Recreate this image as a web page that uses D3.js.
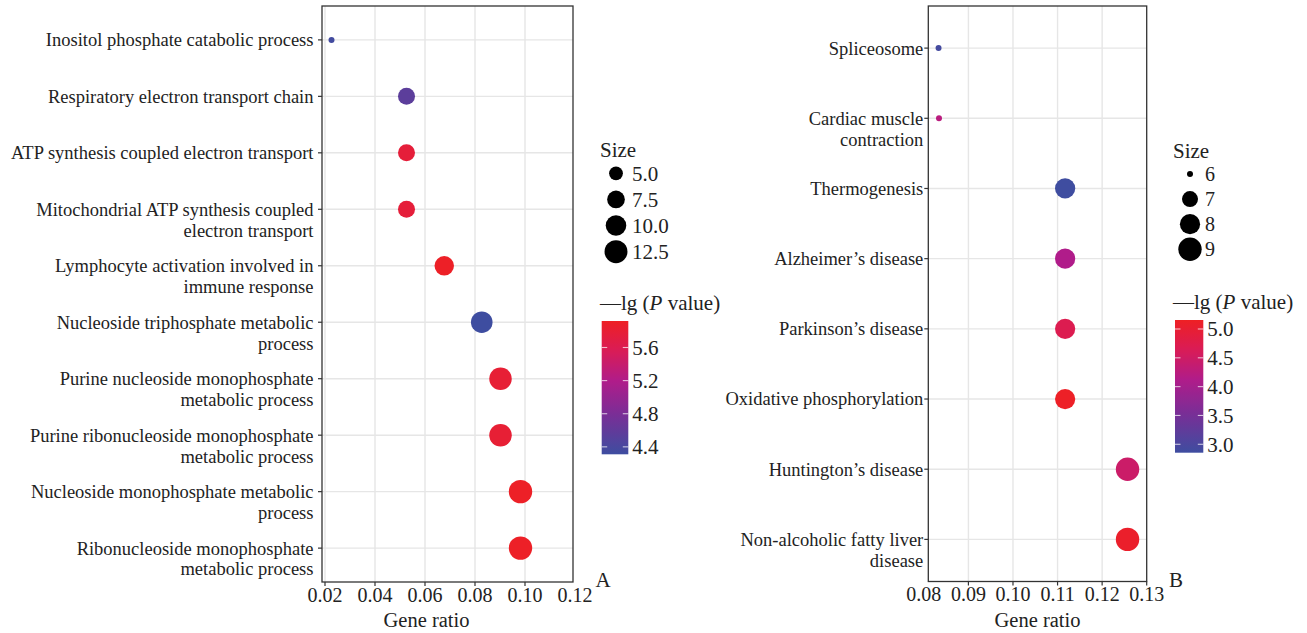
<!DOCTYPE html>
<html>
<head>
<meta charset="utf-8">
<script src="https://cdn.jsdelivr.net/npm/d3@7"></script>
<style>
  html, body { margin: 0; padding: 0; background: #fff; }
  svg { display: block; }
  svg text { font-family: "Liberation Serif", "Times New Roman", Times, serif; fill: #222; }
</style>
</head>
<body>
<svg id="chart" width="1307" height="633" font-family="Liberation Serif, serif"></svg>
<script>
// ---------- Panel A data (GO terms) ----------
const termsA = [
  "Inositol phosphate catabolic process",
  "Respiratory electron transport chain",
  "ATP synthesis coupled electron transport",
  "Mitochondrial ATP synthesis coupled\nelectron transport",
  "Lymphocyte activation involved in\nimmune response",
  "Nucleoside triphosphate metabolic\nprocess",
  "Purine nucleoside monophosphate\nmetabolic process",
  "Purine ribonucleoside monophosphate\nmetabolic process",
  "Nucleoside monophosphate metabolic\nprocess",
  "Ribonucleoside monophosphate\nmetabolic process"
];
const ratioA = [0.0226, 0.0526, 0.0526, 0.0526, 0.0677, 0.0827, 0.0902, 0.0902, 0.0982, 0.0982];
const countA = [3, 7, 7, 7, 9, 11, 12, 12, 13, 13];
const lgpA   = [4.34, 4.55, 5.76, 5.76, 5.90, 4.31, 5.80, 5.80, 5.90, 5.90];
const xTicksA = [0.02, 0.04, 0.06, 0.08, 0.10, 0.12];
const sizeLegendA = [5.0, 7.5, 10.0, 12.5];
const colorTicksA = [4.4, 4.8, 5.2, 5.6];

// ---------- Panel B data (KEGG pathways) ----------
const termsB = [
  "Spliceosome",
  "Cardiac muscle\ncontraction",
  "Thermogenesis",
  "Alzheimer’s disease",
  "Parkinson’s disease",
  "Oxidative phosphorylation",
  "Huntington’s disease",
  "Non-alcoholic fatty liver\ndisease"
];
const ratioB = [0.0833, 0.0834, 0.1117, 0.1117, 0.1117, 0.1117, 0.1257, 0.1257];
const countB = [6, 6, 8, 8, 8, 8, 9, 9];
const lgpB   = [2.92, 4.24, 2.86, 4.12, 4.70, 5.12, 4.46, 5.08];
const xTicksB = [0.08, 0.09, 0.10, 0.11, 0.12, 0.13];
const sizeLegendB = [6, 7, 8, 9];
const colorTicksB = [3.0, 3.5, 4.0, 4.5, 5.0];

const svg = d3.select("#chart");
const defs = svg.append("defs");
const gradStops = [0, 0.3, 0.55, 0.78, 1];
const gradColors = ["#3E4DA0", "#7A2E96", "#B01C8A", "#DA1C55", "#EE2024"];

function drawPanel(cfg) {
  const g = svg.append("g");
  const x = d3.scaleLinear().domain(cfg.xDomain).range([cfg.left, cfg.right]);
  const y = d3.scalePoint().domain(cfg.terms).range([cfg.top, cfg.bottom]).padding(0.6);
  const [c0, c1] = cfg.cDomain;
  const col = d3.scaleLinear().domain(gradStops.map(s => c0 + s * (c1 - c0))).range(gradColors)
    .interpolate(d3.interpolateRgb).clamp(true);
  const lo = d3.min(cfg.counts), hi = d3.max(cfg.counts);
  const tScale = d3.scaleLinear().domain([lo, hi]).range([0, 1]);
  const rLin = d3.scaleLinear().domain([0, 1]).range([3, 11.7]);
  const rad = v => rLin(Math.sqrt(Math.max(0, tScale(v))));

  // grid
  g.append("g").selectAll("line").data(cfg.terms).join("line")
    .attr("x1", cfg.left).attr("x2", cfg.right)
    .attr("y1", d => y(d)).attr("y2", d => y(d))
    .attr("stroke", "#E6E6E6").attr("stroke-width", 1.4);
  g.append("g").selectAll("line")
    .data(cfg.xTicks.filter(t => x(t) > cfg.left + 1 && x(t) < cfg.right - 1)).join("line")
    .attr("x1", d => x(d)).attr("x2", d => x(d))
    .attr("y1", cfg.top).attr("y2", cfg.bottom)
    .attr("stroke", "#E6E6E6").attr("stroke-width", 1.4);

  // points
  const data = cfg.terms.map((t, i) => ({ t, r: cfg.ratios[i], c: cfg.counts[i], p: cfg.lgp[i] }));
  g.append("g").selectAll("circle").data(data).join("circle")
    .attr("cx", d => x(d.r)).attr("cy", d => y(d.t))
    .attr("r", d => rad(d.c))
    .attr("fill", d => col(d.p));

  // frame
  g.append("rect").attr("x", cfg.left).attr("y", cfg.top)
    .attr("width", cfg.right - cfg.left).attr("height", cfg.bottom - cfg.top)
    .attr("fill", "none").attr("stroke", "#333").attr("stroke-width", 1.3);

  // x axis
  const xa = g.append("g").attr("transform", `translate(0,${cfg.bottom})`);
  xa.selectAll("line").data(cfg.xTicks.filter(t => x(t) >= cfg.left - 0.5 && x(t) <= cfg.right + 0.5)).join("line")
    .attr("x1", d => x(d)).attr("x2", d => x(d)).attr("y1", 0).attr("y2", 4)
    .attr("stroke", "#333").attr("stroke-width", 1.2);
  xa.selectAll("text").data(cfg.xTicks).join("text")
    .attr("x", d => x(d)).attr("y", 12.5).attr("dy", "0.35em")
    .attr("text-anchor", "middle").attr("font-size", 20)
    .text(d => d3.format(".2f")(d));
  g.append("text").attr("x", (cfg.left + cfg.right) / 2 + cfg.titleShift).attr("y", cfg.bottom + 38)
    .attr("dy", "0.35em")
    .attr("text-anchor", "middle").attr("font-size", 20.5).text("Gene ratio");

  // y axis ticks + labels
  const ya = g.append("g");
  ya.selectAll("line").data(cfg.terms).join("line")
    .attr("x1", cfg.left - 4).attr("x2", cfg.left)
    .attr("y1", d => y(d)).attr("y2", d => y(d))
    .attr("stroke", "#333").attr("stroke-width", 1.2);
  const lab = ya.selectAll("text").data(cfg.terms).join("text")
    .attr("x", cfg.left - cfg.labelGap).attr("y", d => y(d))
    .attr("text-anchor", "end").attr("font-size", 18.5);
  lab.each(function (d) {
    const sel = d3.select(this);
    d.split("\n").forEach((ln, i) => {
      sel.append("tspan").attr("x", cfg.left - cfg.labelGap)
        .attr("dy", i === 0 ? "0.35em" : "1.13em").text(ln);
    });
  });

  // panel letter
  g.append("text").attr("x", cfg.letterX).attr("y", cfg.bottom - 2)
    .attr("text-anchor", "middle").attr("dy", "0.35em").attr("font-size", 21).text(cfg.letter);

  // size legend
  const lg = g.append("g");
  lg.append("text").attr("x", cfg.legX).attr("y", cfg.sizeTitleY).attr("dy", "0.35em")
    .attr("font-size", 21).text("Size");
  const sy = d3.scalePoint().domain(cfg.sizeLegend).range([cfg.sizeY0, cfg.sizeY1]);
  lg.selectAll("circle").data(cfg.sizeLegend).join("circle")
    .attr("cx", cfg.legCx).attr("cy", d => sy(d)).attr("r", d => rad(d)).attr("fill", "#000");
  lg.selectAll("text.sl").data(cfg.sizeLegend).join("text").attr("class", "sl")
    .attr("x", cfg.legLabelX).attr("y", d => sy(d)).attr("dy", "0.35em")
    .attr("font-size", cfg.sizeFont).text(d => cfg.sizeFmt(d));

  // color bar
  const cbTitle = lg.append("text").attr("x", cfg.legX).attr("y", cfg.cbTitleY).attr("dy", "0.35em")
    .attr("font-size", 21);
  cbTitle.append("tspan").text("—lg (");
  cbTitle.append("tspan").attr("font-style", "italic").text("P");
  cbTitle.append("tspan").text(" value)");

  const gid = "grad" + cfg.letter;
  const grad = defs.append("linearGradient").attr("id", gid)
    .attr("x1", 0).attr("y1", 1).attr("x2", 0).attr("y2", 0);
  d3.range(0, 1.0001, 0.05).forEach(s => {
    grad.append("stop").attr("offset", s).attr("stop-color", col(c0 + s * (c1 - c0)));
  });
  const cy = d3.scaleLinear().domain(cfg.cDomain).range([cfg.cbBottom, cfg.cbTop]);
  lg.append("rect").attr("x", cfg.cbX).attr("y", cfg.cbTop)
    .attr("width", cfg.cbW).attr("height", cfg.cbBottom - cfg.cbTop)
    .attr("fill", `url(#${gid})`);
  lg.selectAll("line.cl").data(cfg.cTicks).join("line").attr("class", "cl")
    .attr("x1", cfg.cbX).attr("x2", cfg.cbX + 5.5)
    .attr("y1", d => cy(d)).attr("y2", d => cy(d))
    .attr("stroke", "#fff").attr("stroke-opacity", 0.7).attr("stroke-width", 1.1);
  lg.selectAll("line.cr").data(cfg.cTicks).join("line").attr("class", "cr")
    .attr("x1", cfg.cbX + cfg.cbW - 5.5).attr("x2", cfg.cbX + cfg.cbW)
    .attr("y1", d => cy(d)).attr("y2", d => cy(d))
    .attr("stroke", "#fff").attr("stroke-opacity", 0.7).attr("stroke-width", 1.1);
  lg.selectAll("text.ct").data(cfg.cTicks).join("text").attr("class", "ct")
    .attr("x", cfg.cbX + cfg.cbW + 4).attr("y", d => cy(d)).attr("dy", "0.35em")
    .attr("font-size", 21).text(d => d3.format(".1f")(d));
}

drawPanel({
  letter: "A", terms: termsA, ratios: ratioA, counts: countA, lgp: lgpA,
  xTicks: xTicksA, xDomain: [0.0188, 0.1192],
  left: 322, right: 573, top: 6, bottom: 582, labelGap: 8.5, titleShift: -21,
  letterX: 603,
  cDomain: [4.31, 5.92], cTicks: colorTicksA,
  sizeLegend: sizeLegendA, sizeFmt: d3.format(".1f"), sizeFont: 21,
  legX: 600, legCx: 616, legLabelX: 632, sizeTitleY: 150, sizeY0: 173.3, sizeY1: 251.7,
  cbTitleY: 303, cbX: 601.7, cbW: 26.6, cbTop: 321, cbBottom: 454.3
});

drawPanel({
  letter: "B", terms: termsB, ratios: ratioB, counts: countB, lgp: lgpB,
  xTicks: xTicksB, xDomain: [0.081, 0.13],
  left: 928.3, right: 1146.7, top: 6, bottom: 581.5, labelGap: 5, titleShift: 0,
  letterX: 1176,
  cDomain: [2.854, 5.156], cTicks: colorTicksB,
  sizeLegend: sizeLegendB, sizeFmt: d3.format("d"), sizeFont: 20,
  legX: 1173, legCx: 1190, legLabelX: 1205, sizeTitleY: 151, sizeY0: 174, sizeY1: 249.3,
  cbTitleY: 302, cbX: 1175, cbW: 28.3, cbTop: 320, cbBottom: 452.7
});
</script>
</body>
</html>
